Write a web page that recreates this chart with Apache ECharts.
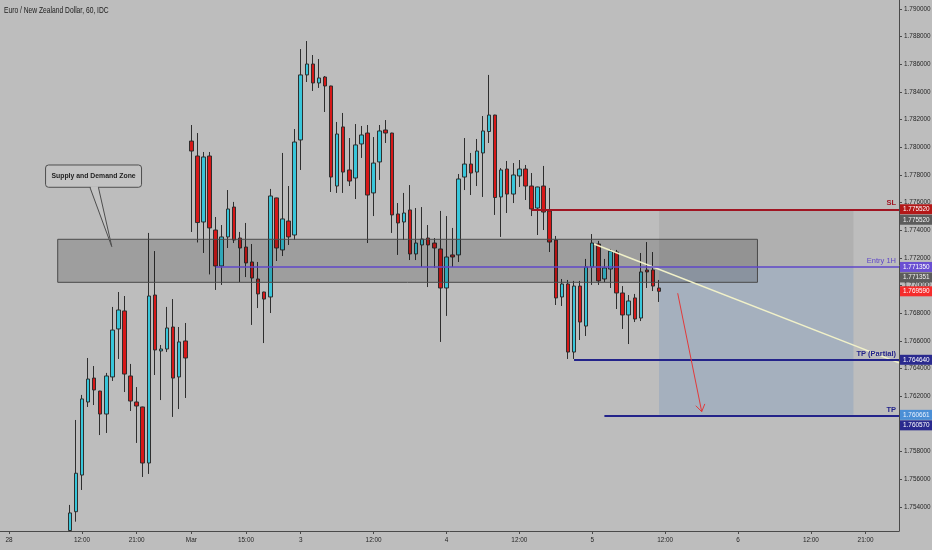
<!DOCTYPE html>
<html><head><meta charset="utf-8">
<script src="https://cdn.jsdelivr.net/npm/echarts@6/dist/echarts.min.js"></script>
<style>html,body{margin:0;padding:0;background:#bdbdbd}#c{width:932px;height:550px}</style>
</head><body><div id="c"></div>
<script>
// ---------------- data ----------------
const titleText = 'Euro / New Zealand Dollar, 60, IDC';
const slotCount = 148;          // hourly slots visible on the time axis
const firstBarSlot = 11;        // slot of the first candle
// [open, close, low, high]
const candles = [
[1.75230,1.75357,1.75227,1.75415],[1.75366,1.75644,1.75294,1.76029],[1.75631,1.76181,1.75523,1.76210],
[1.76159,1.76325,1.76123,1.76477],[1.76332,1.76246,1.76137,1.76419],[1.76238,1.76072,1.75920,1.76240],
[1.76072,1.76347,1.75935,1.76369],[1.76340,1.76679,1.76311,1.76846],[1.76687,1.76824,1.76470,1.76954],
[1.76817,1.76361,1.76231,1.76925],[1.76347,1.76166,1.76094,1.76434],[1.76159,1.76130,1.75863,1.76267],
[1.76123,1.75718,1.75617,1.76125],[1.75718,1.76925,1.75639,1.77381],[1.76932,1.76535,1.76354,1.77250],
[1.76528,1.76542,1.76173,1.76571],[1.76542,1.76694,1.76520,1.76846],[1.76701,1.76332,1.76051,1.76903],
[1.76340,1.76593,1.76108,1.76701],[1.76600,1.76477,1.76188,1.76730],[1.78045,1.77973,1.77388,1.78161],
[1.77937,1.77456,1.77312,1.78103],[1.77460,1.77930,1.77236,1.77966],[1.77937,1.77417,1.77081,1.77966],
[1.77402,1.77142,1.76969,1.77496],[1.77142,1.77352,1.77005,1.77438],[1.77352,1.77554,1.77272,1.77691],
[1.77568,1.77330,1.77308,1.77605],[1.77344,1.77272,1.77026,1.77388],[1.77279,1.77164,1.77062,1.77453],
[1.77171,1.77055,1.76716,1.77301],[1.77048,1.76940,1.76838,1.77171],[1.76954,1.76903,1.76585,1.76956],
[1.76918,1.77648,1.76802,1.77699],[1.77634,1.77272,1.77178,1.77636],[1.77258,1.77482,1.77214,1.77959],
[1.77467,1.77352,1.77294,1.77720],[1.77366,1.78038,1.77330,1.78132],[1.78053,1.78523,1.77836,1.78710],
[1.78523,1.78602,1.78472,1.78768],[1.78602,1.78465,1.78407,1.78667],[1.78465,1.78501,1.78429,1.78638],
[1.78508,1.78443,1.78255,1.78515],[1.78443,1.77785,1.77677,1.78445],[1.77720,1.78096,1.77670,1.78183],
[1.78147,1.77821,1.77670,1.78248],[1.77836,1.77756,1.77720,1.78067],[1.77778,1.78017,1.77626,1.78168],
[1.78024,1.78089,1.77923,1.78154],[1.78103,1.77655,1.77308,1.78161],[1.77670,1.77886,1.77503,1.78074],
[1.77894,1.78118,1.77764,1.78161],[1.78125,1.78103,1.78031,1.78197],[1.78103,1.77511,1.77381,1.78105],
[1.77518,1.77453,1.77222,1.77597],[1.77460,1.77525,1.77330,1.77670],[1.77547,1.77229,1.77185,1.77727],
[1.77229,1.77308,1.77185,1.77561],[1.77294,1.77337,1.77135,1.77568],[1.77344,1.77294,1.76990,1.77438],
[1.77308,1.77272,1.77128,1.77344],[1.77265,1.76983,1.76593,1.77540],[1.76983,1.77207,1.76781,1.77503],
[1.77222,1.77207,1.77135,1.77417],[1.77222,1.77771,1.77171,1.77807],[1.77785,1.77879,1.77691,1.78067],
[1.77879,1.77814,1.77655,1.77959],[1.77821,1.77973,1.77720,1.78060],[1.77959,1.78118,1.77641,1.78226],
[1.78114,1.78233,1.78031,1.78523],[1.78233,1.77637,1.77511,1.78235],[1.77641,1.77836,1.77352,1.77850],
[1.77843,1.77662,1.77525,1.77901],[1.77662,1.77800,1.77597,1.77886],[1.77793,1.77843,1.77713,1.77908],
[1.77843,1.77720,1.77619,1.77872],[1.77720,1.77554,1.77503,1.77814],[1.77561,1.77713,1.77366,1.77715],
[1.77720,1.77532,1.77402,1.77865],[1.77540,1.77315,1.77243,1.77706],[1.77330,1.76911,1.76860,1.77359],
[1.76918,1.77012,1.76853,1.77048],[1.77012,1.76520,1.76470,1.77041],[1.76520,1.76997,1.76470,1.77034],
[1.76997,1.76737,1.76607,1.77034],[1.76708,1.77135,1.76636,1.77193],[1.77135,1.77308,1.77005,1.77373],
[1.77301,1.77034,1.77005,1.77323],[1.77048,1.77128,1.77026,1.77193],[1.77120,1.77250,1.76983,1.77265],
[1.77243,1.76947,1.76831,1.77258],[1.76947,1.76788,1.76687,1.76997],[1.76788,1.76889,1.76578,1.76932],
[1.76911,1.76759,1.76737,1.76940],[1.76766,1.77099,1.76744,1.77236],[1.77113,1.77099,1.76983,1.77315],
[1.77113,1.76997,1.76961,1.77243],[1.76983,1.76959,1.76882,1.77041]
];
const timeTickSlots  = [1, 13, 22, 31, 40, 49, 61, 73, 85, 97, 109, 121, 133, 142];
const timeTickLabels = ['28','12:00','21:00','Mar','15:00','3','12:00','4','12:00','5','12:00','6','12:00','21:00'];
const priceTicks = [1.754,1.756,1.758,1.760,1.762,1.764,1.766,1.768,1.770,1.772,1.774,1.776,1.778,1.780,1.782,1.784,1.786,1.788,1.790];
const priceMin = 1.752265, priceMax = 1.790646;

// trade levels
const slPrice = 1.77552, entryPrice = 1.77135, entryMark = 1.771351, lastPrice = 1.76959;
const tpPartialPrice = 1.76464, targetPrice = 1.760661, tpPrice = 1.76057;
const slStartSlot = 87, entryStartSlot = 35, tpPartialStartSlot = 94, tpStartSlot = 99;
const positionSlots = [108, 140];
// supply & demand zone
const zoneSlots = [9, 124.2], zonePrices = [1.77335, 1.77024];
const zoneCallout = { text: 'Supply and Demand Zone', box: [[7.0, 1.77872], [22.8, 1.77711]], base: [14.3, 15.7], tip: [17.9, 1.77282] };
// trend line & projected move arrow
const trendFrom = [97.3, 1.77301], trendTo = [147.5, 1.76442];
const arrowFrom = [111.07, 1.76945], arrowTo = [115.02, 1.76089];
// price tags on the price scale (in stacking order)
const tagValues = [slPrice, slPrice, entryPrice, entryMark, lastPrice, tpPartialPrice, targetPrice, tpPrice];
const tagKinds  = ['sl', 'grey', 'entry', 'grey', 'last', 'navy', 'target', 'navy'];

// ---------------- styles ----------------
const FONT = '"Liberation Sans", Arial, sans-serif';
const FS = 6.4;
const BG = '#bdbdbd';
const C = { up:'#38c6da', down:'#d61818', border:'#2e2e2e', axis:'#4a4a4a', text:'#262626',
  sl:'#a01522', entry:'#5f47c8', navy:'#23238a', trend:'#f1f1c9', arrow:'#e23a3a' };
const tagStyle = { sl:{bg:'#b31818',fg:'#ffffff'}, grey:{bg:'#5c5c5c',fg:'#f2f2f2'},
  entry:{bg:'#6a4fd2',fg:'#ffffff'}, last:{bg:'#f52c2c',fg:'#ffffff'},
  navy:{bg:'#2a2a8e',fg:'#ffffff'}, target:{bg:'#4b8fd6',fg:'#eaf2ff'} };

const chart = echarts.init(document.getElementById('c'));
const xMax = slotCount - 0.5;
const candleData = candles.map((c, i) => [firstBarSlot + i, c[0], c[1], c[2], c[3]]);

function level(startSlot, price, color, width, labelText, labelColor, bold) {
  return [{ coord: [startSlot, price], lineStyle: { color, width, type: 'solid' },
    label: { show: !!labelText, formatter: labelText || '', position: 'insideEndTop', distance: [3, 2],
      color: labelColor, fontSize: 7.5, fontWeight: bold ? 'bold' : 'normal', fontFamily: FONT } },
    { coord: [xMax, price] }];
}

chart.setOption({
  animation: false,
  backgroundColor: BG,
  grid: { left: 0, right: 33, top: 0, bottom: 19, containLabel: false, outerBoundsMode: 'none' },
  xAxis: {
    type: 'value', min: -0.5, max: xMax,
    axisLine: { show: true, onZero: false, lineStyle: { color: C.axis, width: 1 } },
    axisTick: { show: true, length: 3, customValues: timeTickSlots, lineStyle: { color: C.axis } },
    axisLabel: { customValues: timeTickSlots, margin: 6, fontSize: FS, color: C.text, fontFamily: FONT,
      formatter: v => timeTickLabels[timeTickSlots.indexOf(Math.round(v))] || '' },
    splitLine: { show: false }
  },
  yAxis: {
    type: 'value', position: 'right', min: priceMin, max: priceMax, scale: true,
    axisLine: { show: true, onZero: false, lineStyle: { color: C.axis, width: 1 } },
    axisTick: { show: true, length: 3, customValues: priceTicks, lineStyle: { color: C.axis } },
    axisLabel: { customValues: priceTicks, margin: 5, fontSize: FS, color: C.text, fontFamily: FONT,
      formatter: v => v.toFixed(6) },
    splitLine: { show: false }
  },
  series: [
    { // position tool zones (risk / reward)
      type: 'line', data: [], silent: true, z: 1,
      markArea: { silent: true, z: 1, data: [
        [{ coord: [positionSlots[0], slPrice], itemStyle: { color: 'rgba(70,70,70,0.10)' } }, { coord: [positionSlots[1], entryPrice] }],
        [{ coord: [positionSlots[0], entryPrice], itemStyle: { color: 'rgba(95,140,195,0.26)' } }, { coord: [positionSlots[1], targetPrice] }]
      ] }
    },
    {
      type: 'candlestick', z: 2, barWidth: 4, clip: true,
      encode: { x: 0, y: [1, 2, 3, 4] },
      data: candleData,
      itemStyle: { color: C.up, color0: C.down, borderColor: C.border, borderColor0: C.border, borderWidth: 1 }
    },
    { // supply & demand zone
      type: 'line', data: [], silent: true, z: 3,
      markArea: { silent: true, z: 3, data: [
        [{ coord: [zoneSlots[0], zonePrices[0]], itemStyle: { color: 'rgba(0,0,0,0.16)', borderColor: '#4a4a4a', borderWidth: 1 } },
         { coord: [zoneSlots[1], zonePrices[1]] }]
      ] }
    },
    { // levels and trend line
      type: 'line', data: [], silent: true, z: 5,
      markLine: { silent: true, z: 5, symbol: ['none', 'none'], animation: false, data: [
        [{ coord: trendFrom, lineStyle: { color: C.trend, width: 1.5, type: 'solid' }, label: { show: false } }, { coord: trendTo }],
        level(slStartSlot, slPrice, C.sl, 2, 'SL', C.sl, true),
        level(entryStartSlot, entryPrice, C.entry, 1.5, 'Entry 1H', C.entry, false),
        level(tpPartialStartSlot, tpPartialPrice, C.navy, 2, 'TP (Partial)', C.navy, true),
        level(tpStartSlot, tpPrice, C.navy, 2, 'TP', C.navy, true)
      ] }
    }
  ]
});

// ---------- graphic annotations anchored to data coordinates ----------
const px = p => chart.convertToPixel({ gridIndex: 0 }, p);
const g = [];
// title (condensed like the original)
g.push({ type: 'text', z: 40, x: 4, y: 11, scaleX: 0.8, style: { text: titleText, x: 0, y: 0, align: 'left', verticalAlign: 'middle',
  fill: '#1c1c1c', fontSize: 8.4, fontFamily: FONT } });
// callout
const b0 = px(zoneCallout.box[0]), b1 = px(zoneCallout.box[1]);
const tip = px(zoneCallout.tip);
const baseL = px([zoneCallout.base[0], zoneCallout.box[1][1]]);
const baseR = px([zoneCallout.base[1], zoneCallout.box[1][1]]);
g.push({ type: 'rect', z: 20, shape: { x: b0[0], y: b0[1], width: b1[0] - b0[0], height: b1[1] - b0[1], r: 3 },
  style: { fill: '#c3c3c3', stroke: '#4e4e4e', lineWidth: 1 } });
g.push({ type: 'polygon', z: 21, shape: { points: [[baseL[0] + 0.5, baseL[1] - 1], tip, [baseR[0] - 0.5, baseR[1] - 1]] },
  style: { fill: '#c3c3c3' } });
g.push({ type: 'polyline', z: 22, shape: { points: [baseL, tip, baseR] }, style: { stroke: '#4e4e4e', lineWidth: 1, fill: null } });
g.push({ type: 'text', z: 23, x: (b0[0] + b1[0]) / 2, y: (b0[1] + b1[1]) / 2, scaleX: 0.88,
  style: { text: zoneCallout.text, x: 0, y: 0, align: 'center', verticalAlign: 'middle', fill: '#1e1e1e', fontSize: 7.8, fontWeight: 'bold', fontFamily: FONT } });
// projected move arrow
const a0 = px(arrowFrom), a1 = px(arrowTo);
const dx = a1[0] - a0[0], dy = a1[1] - a0[1], len = Math.hypot(dx, dy), ux = dx / len, uy = dy / len;
const back = [a1[0] - ux * 7, a1[1] - uy * 7];
g.push({ type: 'polyline', z: 20, shape: { points: [a0, a1] }, style: { stroke: C.arrow, lineWidth: 1, fill: null } });
g.push({ type: 'polyline', z: 20, shape: { points: [[back[0] - uy * 4.6, back[1] + ux * 4.6], a1, [back[0] + uy * 4.6, back[1] - ux * 4.6]] },
  style: { stroke: C.arrow, lineWidth: 1, fill: null } });
// price tags on the price scale
const axisX = px([xMax, priceMin])[0];
let prevBottom = -Infinity;
tagValues.forEach((v, i) => {
  let top = px([0, v])[1] - 5;
  if (top < prevBottom) top = prevBottom;
  prevBottom = top + 10.5;
  const st = tagStyle[tagKinds[i]];
  g.push({ type: 'rect', z: 30, shape: { x: axisX + 1, y: top, width: 932 - axisX - 1, height: 10 }, style: { fill: st.bg } });
  g.push({ type: 'text', z: 31, style: { text: v.toFixed(6), x: axisX + 4, y: top + 5, align: 'left', verticalAlign: 'middle',
    fill: st.fg, fontSize: FS, fontFamily: FONT } });
});
chart.setOption({ graphic: g });
</script>
</body></html>
